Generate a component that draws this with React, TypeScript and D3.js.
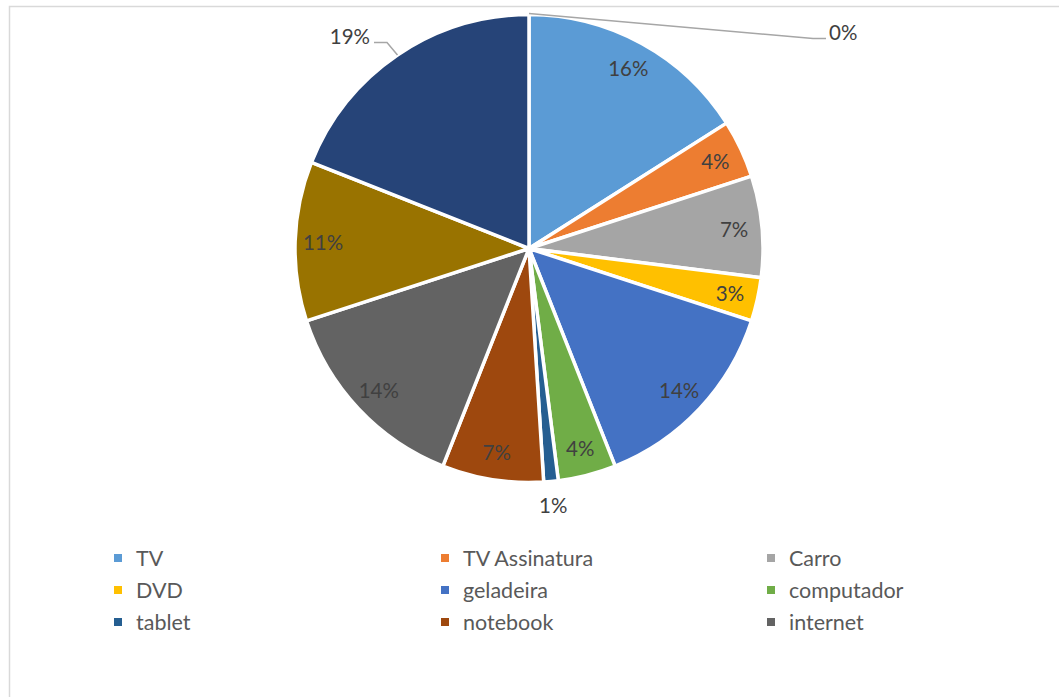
import React from "react";
import * as d3 from "d3";

// Shares of spending, in percent, clockwise from 12 o'clock
const categories = [
  "TV", "TV Assinatura", "Carro", "DVD", "geladeira", "computador",
  "tablet", "notebook", "internet", "item 10", "item 11", "item 12",
];
const values = [16, 4, 7, 3, 14, 4, 1, 7, 14, 11, 19, 0];
const colors = [
  "#5B9BD5", "#ED7D31", "#A5A5A5", "#FFC000", "#4472C4", "#70AD47",
  "#255E91", "#9E480E", "#636363", "#997300", "#264478", "#43682B",
];
// Only the first rows of the legend fit in the chart area
const legendCount = 9;

const W = 1059;
const H = 697;
const cx = 529;
const cy = 248.5;
const R = 234;
const labelR = 206;
const font = "Lato, 'Open Sans', sans-serif";
const textColor = "#404040";

export default function App() {
  const pie = d3
    .pie<number>()
    .sort(null)
    .value((d) => d)
    .startAngle(0)
    .endAngle(2 * Math.PI);
  const arcs = pie(values);
  const arc = d3.arc<d3.PieArcDatum<number>>().innerRadius(0).outerRadius(R);

  const pt = (a: number, r: number) => [cx + r * Math.sin(a), cy - r * Math.cos(a)];

  const legendX = [118, 445, 771];
  const legendY = [558, 590, 622];

  return (
    <svg
      width={W}
      height={H}
      style={{ position: "absolute", left: 0, top: 0, background: "#fff" }}
    >
      <rect x={9.5} y={6.5} width={W + 10} height={H + 10} fill="#fff" stroke="#D9D9D9" strokeWidth={1.5} />
      <g transform={`translate(${cx},${cy})`}>
        {arcs.map((a, i) =>
          a.value > 0 ? (
            <path key={i} d={arc(a) || ""} fill={colors[i]} stroke="#fff" strokeWidth={3.5} strokeLinejoin="round" />
          ) : null
        )}
      </g>
      {arcs.map((a, i) => {
        const mid = (a.startAngle + a.endAngle) / 2;
        const label = `${values[i]}%`;
        const common = {
          fontFamily: font,
          fontSize: 20.5,
          fill: textColor,
          dominantBaseline: "central" as const,
        };
        if (values[i] === 0) {
          const [x0, y0] = pt(mid, R + 1);
          return (
            <g key={i}>
              <polyline points={`${x0},${y0} 813,38.5 826,38.5`} fill="none" stroke="#A6A6A6" strokeWidth={1.5} />
              <text x={829} y={32} {...common} textAnchor="start">{label}</text>
            </g>
          );
        }
        if (values[i] >= 19) {
          const [x0, y0] = pt(mid, R);
          return (
            <g key={i}>
              <polyline points={`${x0},${y0} 387,42.5 374,42.5`} fill="none" stroke="#A6A6A6" strokeWidth={1.5} />
              <text x={370} y={36} {...common} textAnchor="end">{label}</text>
            </g>
          );
        }
        if (values[i] <= 1) {
          const [x, y] = pt(mid, R + 24);
          return (
            <text key={i} x={x} y={y} {...common} textAnchor="middle">{label}</text>
          );
        }
        const [x, y] = pt(mid, labelR);
        return (
          <text key={i} x={x} y={y} {...common} textAnchor="middle">{label}</text>
        );
      })}
      {categories.slice(0, legendCount).map((c, i) => {
        const x = legendX[i % 3];
        const y = legendY[Math.floor(i / 3)];
        return (
          <g key={c}>
            <rect x={x - 4} y={y - 4} width={8} height={8} fill={colors[i]} />
            <text x={x + 18} y={y} fontFamily={font} fontSize={21.5} fill="#595959" dominantBaseline="central">
              {c}
            </text>
          </g>
        );
      })}
    </svg>
  );
}
